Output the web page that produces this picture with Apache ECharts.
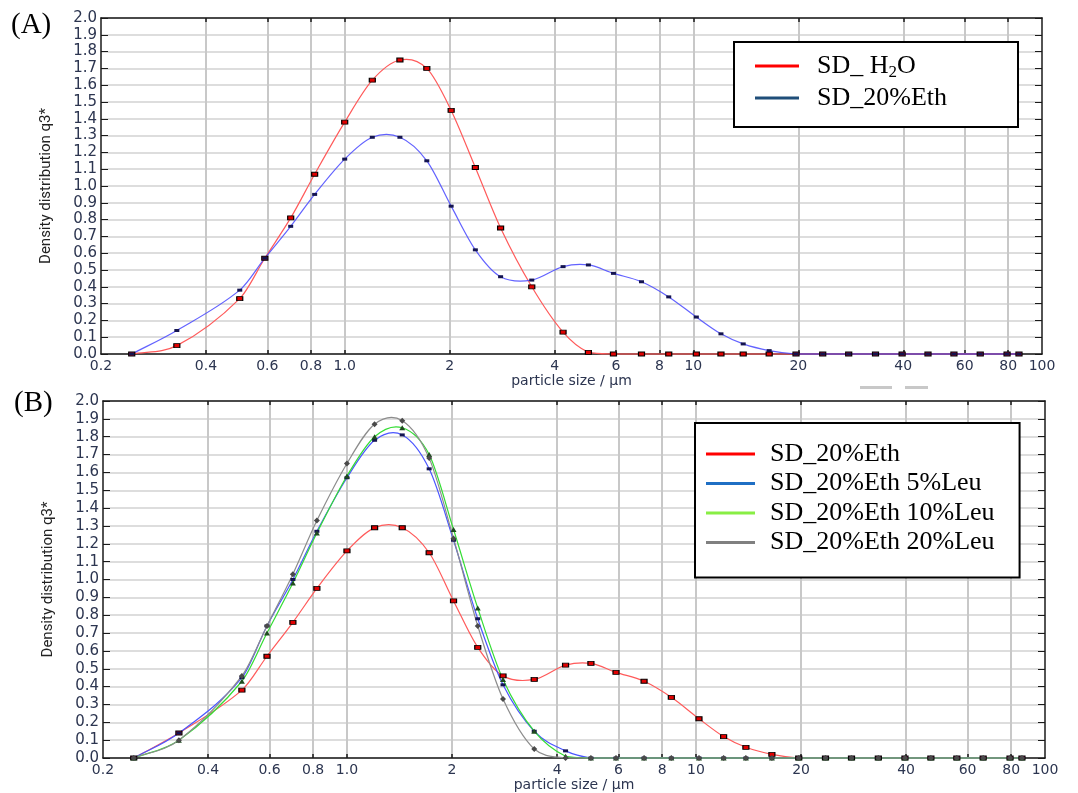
<!DOCTYPE html>
<html>
<head>
<meta charset="utf-8">
<script src="https://cdn.jsdelivr.net/npm/echarts@6/dist/echarts.min.js"></script>
<style>
html,body{margin:0;padding:0;background:#fff;}
#c{width:1078px;height:793px;}
</style>
</head>
<body>
<div id="c"></div>
<script>
// ---- data (particle size in µm, density q3*) ----
var sizes = [0.245, 0.33, 0.50, 0.59, 0.70, 0.82, 1.0, 1.2, 1.44, 1.72, 2.02, 2.37, 2.8, 3.44, 4.23, 5.0, 5.9, 7.1, 8.5, 10.2, 12.0, 13.9, 16.5, 19.7, 23.5, 27.9, 33.3, 39.7, 47.1, 55.9, 66.5, 79.4, 85.9];
var sdH2O  = [0, 0.05, 0.33, 0.57, 0.81, 1.07, 1.38, 1.63, 1.75, 1.70, 1.45, 1.11, 0.75, 0.40, 0.13, 0.01, 0, 0, 0, 0, 0, 0, 0, 0, 0, 0, 0, 0, 0, 0, 0, 0, 0];
var sdEth20 = [0, 0.14, 0.38, 0.57, 0.76, 0.95, 1.16, 1.29, 1.29, 1.15, 0.88, 0.62, 0.46, 0.44, 0.52, 0.53, 0.48, 0.43, 0.34, 0.22, 0.12, 0.06, 0.02, 0, 0, 0, 0, 0, 0, 0, 0, 0, 0];
var sdLeu5  = [0, 0.14, 0.45, 0.74, 1.00, 1.27, 1.57, 1.78, 1.81, 1.62, 1.22, 0.78, 0.41, 0.15, 0.04, 0, 0, 0, 0, 0, 0, 0, 0, 0, 0, 0, 0, 0, 0, 0, 0, 0, 0];
var sdLeu10 = [0, 0.10, 0.43, 0.70, 0.98, 1.26, 1.58, 1.80, 1.85, 1.70, 1.28, 0.84, 0.44, 0.15, 0.01, 0, 0, 0, 0, 0, 0, 0, 0, 0, 0, 0, 0, 0, 0, 0, 0, 0, 0];
var sdLeu20 = [0, 0.10, 0.46, 0.74, 1.03, 1.33, 1.65, 1.87, 1.89, 1.68, 1.23, 0.74, 0.33, 0.05, 0, 0, 0, 0, 0, 0, 0, 0, 0, 0, 0, 0, 0, 0, 0, 0, 0, 0, 0];

var xTickValues = [0.2, 0.4, 0.6, 0.8, 1, 2, 4, 6, 8, 10, 20, 40, 60, 80, 100];
var xTickLabels = ['0.2', '0.4', '0.6', '0.8', '1.0', '2', '4', '6', '8', '10', '20', '40', '60', '80', '100'];
var xGridValues = [0.4, 0.6, 0.8, 1, 2, 4, 6, 8, 10, 20, 40, 60, 80];
var xMin = 0.2, xMax = 100;
var yMin = 0, yMax = 2.0, yStep = 0.1;

// ---- build ----
function L(v){ return Math.log10(v); }
function pairs(ys){ return sizes.map(function(s, i){ return [L(s), ys[i]]; }); }
var labelPos = xTickValues.map(L);
var gridPos = xGridValues.map(L);
function xLabel(v){
  var best = 0, d = 1e9;
  for (var i = 0; i < labelPos.length; i++){ var dd = Math.abs(labelPos[i] - v); if (dd < d){ d = dd; best = i; } }
  return xTickLabels[best];
}

var axisCol = '#1a1a1a';
var labCol = '#2c3550';
var grids = [
  {left: 101, top: 18, width: 941, height: 336},
  {left: 103, top: 401, width: 942, height: 359.5}
];

var xAxes = [], yAxes = [];
grids.forEach(function(g, gi){
  xAxes.push({
    gridIndex: gi, type: 'value', min: L(xMin), max: L(xMax), position: 'bottom',
    axisLine: {show: true, onZero: false, lineStyle: {color: axisCol, width: 1.5}},
    axisTick: {show: true, inside: true, length: 4, customValues: gridPos, lineStyle: {color: axisCol, width: 1.5}},
    splitLine: {show: true, lineStyle: {color: '#c8c8c8', width: 2}},
    axisLabel: {customValues: labelPos, formatter: xLabel, hideOverlap: false, showMinLabel: true, showMaxLabel: true,
      margin: 5, color: labCol, fontFamily: 'DejaVu Sans', fontSize: 14},
    name: 'particle size / µm', nameLocation: 'middle', nameGap: 20,
    nameTextStyle: {color: labCol, fontFamily: 'DejaVu Sans', fontSize: 14}
  });
  xAxes.push({
    gridIndex: gi, type: 'value', min: L(xMin), max: L(xMax), position: 'top',
    axisLine: {show: true, onZero: false, lineStyle: {color: axisCol, width: 1.5}},
    axisTick: {show: true, inside: true, length: 4, customValues: gridPos, lineStyle: {color: axisCol, width: 1.5}},
    splitLine: {show: false}, axisLabel: {show: false}
  });
  yAxes.push({
    gridIndex: gi, type: 'value', min: yMin, max: yMax, interval: yStep, position: 'left',
    axisLine: {show: true, onZero: false, lineStyle: {color: axisCol, width: 1.5}},
    axisTick: {show: true, inside: true, length: 7, lineStyle: {color: axisCol, width: 1}},
    splitLine: {show: true, lineStyle: {color: '#d2d2d2', width: 1.5}},
    axisLabel: {formatter: function(v){ return v.toFixed(1); }, margin: 4, color: labCol, fontFamily: 'DejaVu Sans', fontSize: 15},
    name: 'Density distribution q3*', nameLocation: 'middle', nameGap: 47, nameRotate: 90,
    nameTextStyle: {color: '#222', fontFamily: 'Liberation Sans Narrow, Arial Narrow, Roboto, sans-serif', fontSize: 15}
  });
  yAxes.push({
    gridIndex: gi, type: 'value', min: yMin, max: yMax, interval: yStep, position: 'right',
    axisLine: {show: true, onZero: false, lineStyle: {color: axisCol, width: 1.5}},
    axisTick: {show: true, inside: true, length: 7, lineStyle: {color: axisCol, width: 1}},
    splitLine: {show: false}, axisLabel: {show: false}
  });
});

// Smooth spline through the data points, positioned by the axis scales (api.coord)
function curveSeries(gi, ys, color){
  return {
    type: 'custom', coordinateSystem: 'cartesian2d', xAxisIndex: gi * 2, yAxisIndex: gi * 2,
    data: pairs(ys), silent: true, z: 2,
    renderItem: function(params, api){
      if (params.dataIndex !== 0) return null;
      var P = ys.map(function(y, i){ return api.coord([L(sizes[i]), y]); });
      var cs = params.coordSys;
      var yBot = cs.y + cs.height, yTop = cs.y;
      var n = P.length, m = [];
      for (var i = 0; i < n; i++){
        var a = P[Math.max(0, i - 1)], b = P[Math.min(n - 1, i + 1)];
        m.push((b[1] - a[1]) / (b[0] - a[0]));
      }
      function cl(v){ return Math.min(yBot, Math.max(yTop, v)); }
      var kids = [];
      for (var k = 0; k < n - 1; k++){
        var p0 = P[k], p1 = P[k + 1], h = p1[0] - p0[0];
        kids.push({
          type: 'bezierCurve',
          shape: {x1: p0[0], y1: p0[1], x2: p1[0], y2: p1[1],
            cpx1: p0[0] + h / 3, cpy1: cl(p0[1] + m[k] * h / 3),
            cpx2: p1[0] - h / 3, cpy2: cl(p1[1] - m[k + 1] * h / 3)},
          style: {stroke: color, fill: null, lineWidth: 1.2}
        });
      }
      return {type: 'group', children: kids};
    }
  };
}

function markSeries(name, gi, ys, markColor, symbol, size, border){
  return {
    name: name, type: 'line', xAxisIndex: gi * 2, yAxisIndex: gi * 2,
    data: pairs(ys), showAllSymbol: true, z: 3,
    symbol: symbol, symbolSize: size,
    lineStyle: {opacity: 0},
    itemStyle: {color: markColor, borderColor: border ? '#000' : markColor, borderWidth: border ? 1 : 0},
    emphasis: {disabled: true}
  };
}

var series = [
  curveSeries(0, sdH2O, '#ff5a5a'),
  curveSeries(0, sdEth20, 'rgba(70,70,255,0.85)'),
  curveSeries(1, sdEth20, '#ff5a5a'),
  curveSeries(1, sdLeu5, '#4a55ff'),
  curveSeries(1, sdLeu10, '#33dd33'),
  curveSeries(1, sdLeu20, '#8c8c8c'),
  markSeries('SD_H2O', 0, sdH2O, '#e00000', 'rect', [6, 4], true),
  markSeries('SD_20%Eth', 0, sdEth20, '#141450', 'rect', [5, 3], false),
  markSeries('SD_20%Eth', 1, sdEth20, '#e00000', 'rect', [6, 4], true),
  markSeries('SD_20%Eth 5%Leu', 1, sdLeu5, '#141450', 'rect', [5, 3], false),
  markSeries('SD_20%Eth 10%Leu', 1, sdLeu10, '#1f4a1f', 'triangle', [6, 5], false),
  markSeries('SD_20%Eth 20%Leu', 1, sdLeu20, '#4a4a4a', 'diamond', [6, 6], false)
];

var legendFont = {color: '#000', fontFamily: 'Liberation Serif, Times New Roman, serif', fontSize: 26};
var legends = [
  {
    left: 734, top: 42, orient: 'vertical', icon: 'rect', itemWidth: 44, itemHeight: 3, itemGap: 2,
    padding: [9, 71, 14, 21], borderColor: '#000', borderWidth: 2, backgroundColor: '#fff',
    selectedMode: false,
    data: [
      {name: 'SD_H2O', itemStyle: {color: '#ff0000', borderWidth: 0}},
      {name: 'SD_20%Eth', itemStyle: {color: '#1f4e79', borderWidth: 0}}
    ],
    formatter: function(n){ return n === 'SD_H2O' ? 'SD_ H{sub|2}O' : n; },
    textStyle: Object.assign({}, legendFont, {lineHeight: 30, padding: [0, 0, 0, 13],
      rich: {sub: {fontFamily: legendFont.fontFamily, fontSize: 17, color: '#000', lineHeight: 16, verticalAlign: 'bottom'}}})
  },
  {
    left: 695, top: 423, orient: 'vertical', icon: 'rect', itemWidth: 49, itemHeight: 3, itemGap: 1.5,
    padding: [17, 25, 21, 11], borderColor: '#000', borderWidth: 2, backgroundColor: '#fff',
    selectedMode: false,
    data: [
      {name: 'SD_20%Eth', itemStyle: {color: '#ff0000', borderWidth: 0}},
      {name: 'SD_20%Eth 5%Leu', itemStyle: {color: '#1f6fc4', borderWidth: 0}},
      {name: 'SD_20%Eth 10%Leu', itemStyle: {color: '#88ee44', borderWidth: 0}},
      {name: 'SD_20%Eth 20%Leu', itemStyle: {color: '#808080', borderWidth: 0}}
    ],
    textStyle: Object.assign({}, legendFont, {lineHeight: 28, padding: [0, 0, 0, 10]})
  }
];

var chart = echarts.init(document.getElementById('c'), null, {renderer: 'canvas'});
chart.setOption({
  animation: false,
  backgroundColor: '#fff',
  grid: grids,
  xAxis: xAxes,
  yAxis: yAxes,
  legend: legends,
  series: series,
  graphic: [
    {type: 'text', left: 11, top: 11, style: {text: '(A)', font: '29px "Liberation Serif", serif', fill: '#000'}},
    {type: 'text', left: 14, top: 389, style: {text: '(B)', font: '29px "Liberation Serif", serif', fill: '#000'}},
    {type: 'rect', shape: {x: 860, y: 386, width: 32, height: 3}, style: {fill: '#c8c8c8'}},
    {type: 'rect', shape: {x: 905, y: 386, width: 23, height: 3}, style: {fill: '#c8c8c8'}}
  ]
});
</script>
</body>
</html>
